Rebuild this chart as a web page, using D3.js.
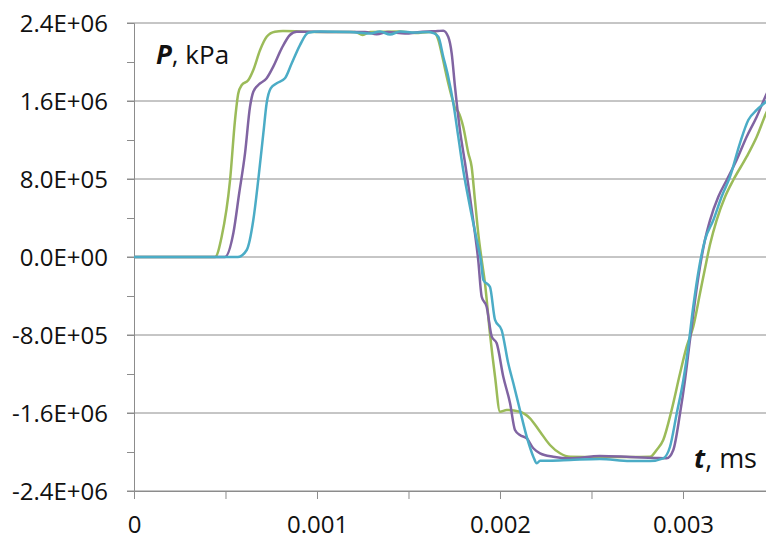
<!DOCTYPE html>
<html>
<head>
<meta charset="utf-8">
<script src="https://cdn.jsdelivr.net/npm/d3@7"></script>
<style>
  body { margin: 0; background: #fff; }
  text { font-family: "Open Sans", Lato, sans-serif; fill: #111; }
  .axisGroup path, .axisGroup line { stroke: #8c8c8c; }
</style>
</head>
<body>
<div id="chart"></div>
<script>
// data: [t (s), P (kPa)]
const greenSeries = [
  [0, 0], [0.000443, 0], [0.000479, 2.08e5], [0.000525, 7.90e5], [0.000552, 1.405e6],
  [0.000570, 1.679e6], [0.000589, 1.764e6], [0.000625, 1.815e6], [0.000652, 1.918e6],
  [0.000689, 2.123e6], [0.000725, 2.259e6], [0.000770, 2.311e6], [0.000814, 2.318e6],
  [0.001016, 2.308e6], [0.001208, 2.308e6], [0.001250, 2.277e6], [0.001290, 2.308e6],
  [0.001454, 2.313e6], [0.001536, 2.297e6], [0.001617, 2.308e6], [0.001645, 2.297e6],
  [0.001663, 2.226e6], [0.001681, 2.089e6], [0.001709, 1.849e6], [0.001736, 1.644e6],
  [0.001754, 1.528e6], [0.001772, 1.490e6], [0.001799, 1.336e6], [0.001827, 1.064e6],
  [0.001845, 9.26e5], [0.001863, 5.85e5], [0.001881, 2.46e5], [0.001900, -3.1e4],
  [0.001918, -2.70e5], [0.001945, -7.83e5], [0.001973, -1.228e6], [0.002000, -1.587e6],
  [0.002037, -1.569e6], [0.002109, -1.587e6], [0.002164, -1.654e6], [0.002219, -1.792e6],
  [0.002273, -1.928e6], [0.002328, -2.013e6], [0.002383, -2.048e6], [0.002546, -2.051e6],
  [0.002710, -2.051e6], [0.002820, -2.048e6], [0.002856, -1.979e6], [0.002892, -1.877e6],
  [0.002938, -1.569e6], [0.002984, -1.193e6], [0.003020, -9.20e5], [0.003056, -7.15e5],
  [0.003093, -3.72e5], [0.003120, -1.2e5], [0.003148, 1.3e5], [0.003184, 3.79e5],
  [0.003230, 6.18e5], [0.003275, 7.90e5], [0.003348, 1.029e6], [0.003403, 1.234e6],
  [0.003454, 1.474e6], [0.003503, 1.66e6]
];
const purpleSeries = [
  [0, 0], [0.000497, 0], [0.000543, 2.46e5], [0.000575, 6.56e5], [0.000607, 1.067e6],
  [0.000634, 1.542e6], [0.000652, 1.695e6], [0.000679, 1.764e6], [0.000725, 1.833e6],
  [0.000761, 1.952e6], [0.000807, 2.140e6], [0.000852, 2.277e6], [0.000889, 2.311e6],
  [0.001071, 2.308e6], [0.001262, 2.308e6], [0.001326, 2.284e6], [0.001388, 2.308e6],
  [0.001481, 2.292e6], [0.001563, 2.308e6], [0.001661, 2.318e6], [0.001690, 2.321e6],
  [0.001717, 2.259e6], [0.001736, 2.089e6], [0.001754, 1.747e6], [0.001781, 1.303e6],
  [0.001809, 9.64e5], [0.001836, 6.18e5], [0.001863, 2.46e5], [0.001881, -3.1e4],
  [0.001900, -4.07e5], [0.001927, -5.10e5], [0.001955, -8.17e5], [0.001982, -8.85e5],
  [0.002018, -1.228e6], [0.002055, -1.500e6], [0.002082, -1.774e6], [0.002109, -1.826e6],
  [0.002146, -1.859e6], [0.002182, -1.962e6], [0.002219, -2.013e6], [0.002291, -2.048e6],
  [0.002383, -2.065e6], [0.002546, -2.041e6], [0.002710, -2.051e6], [0.002847, -2.061e6],
  [0.002911, -2.065e6], [0.002947, -1.979e6], [0.002984, -1.603e6], [0.003011, -1.262e6],
  [0.003038, -8.51e5], [0.003066, -4.41e5], [0.003093, -9.9e4], [0.003120, 1.74e5],
  [0.003148, 3.79e5], [0.003193, 6.18e5], [0.003239, 7.90e5], [0.003293, 9.95e5],
  [0.003348, 1.234e6], [0.003403, 1.439e6], [0.003454, 1.662e6], [0.003503, 1.85e6]
];
const cyanSeries = [
  [0, 0], [0.000568, 0], [0.000616, 7.2e4], [0.000652, 3.79e5], [0.000679, 7.90e5],
  [0.000707, 1.272e6], [0.000725, 1.579e6], [0.000747, 1.730e6], [0.000780, 1.782e6],
  [0.000825, 1.833e6], [0.000862, 1.987e6], [0.000907, 2.174e6], [0.000952, 2.300e6],
  [0.001016, 2.313e6], [0.001180, 2.308e6], [0.001290, 2.292e6], [0.001344, 2.313e6],
  [0.001399, 2.282e6], [0.001454, 2.313e6], [0.001536, 2.302e6], [0.001607, 2.308e6],
  [0.001636, 2.297e6], [0.001663, 2.259e6], [0.001690, 2.054e6], [0.001717, 1.849e6],
  [0.001745, 1.576e6], [0.001772, 1.234e6], [0.001799, 8.92e5], [0.001836, 5.16e5],
  [0.001873, 1.74e5], [0.001895, -3.1e4], [0.001909, -2.36e5], [0.001945, -3.05e5],
  [0.001973, -6.46e5], [0.002009, -7.49e5], [0.002045, -1.090e6], [0.002073, -1.295e6],
  [0.002109, -1.569e6], [0.002146, -1.843e6], [0.002182, -2.048e6], [0.002201, -2.116e6],
  [0.002219, -2.089e6], [0.002273, -2.089e6], [0.002383, -2.082e6], [0.002546, -2.072e6],
  [0.002710, -2.092e6], [0.002820, -2.092e6], [0.002892, -2.065e6], [0.002929, -1.946e6],
  [0.002966, -1.603e6], [0.003002, -1.262e6], [0.003029, -9.20e5], [0.003056, -5.10e5],
  [0.003089, -9.9e4], [0.003120, 1.74e5], [0.003166, 3.79e5], [0.003211, 6.18e5],
  [0.003257, 8.24e5], [0.003311, 1.166e6], [0.003357, 1.405e6], [0.003403, 1.508e6],
  [0.003454, 1.593e6], [0.003503, 1.68e6]
];
const seriesColors = ['#9bbb59', '#8064a2', '#4bacc6'];

const yTicks = [2.4e6, 1.6e6, 8.0e5, 0, -8.0e5, -1.6e6, -2.4e6];
const yTickLabels = ['2.4E+06', '1.6E+06', '8.0E+05', '0.0E+00', '-8.0E+05', '-1.6E+06', '-2.4E+06'];
const yMinorTicks = [2.0e6, 1.2e6, 4.0e5, -4.0e5, -1.2e6, -2.0e6];
const xTicks = [0, 0.001, 0.002, 0.003];
const xTickLabels = ['0', '0.001', '0.002', '0.003'];
const xMinorTicks = [0.0005, 0.0015, 0.0025];

const width = 766;
const height = 539;
const margin = { top: 23, right: 0, bottom: 48, left: 134 };
const innerW = width - margin.left - margin.right;
const innerH = height - margin.top - margin.bottom;

const svg = d3.select('div#chart').append('svg').attr('width', width).attr('height', height)
  .style('background', '#fff');

const x = d3.scaleLinear().domain([0, 0.0034536]).range([0, innerW]);
const y = d3.scaleLinear().domain([-2.4e6, 2.4e6]).range([innerH, 0]);

const axisGroup = svg.append('g').attr('class', 'axisGroup')
  .attr('transform', `translate(${margin.left},${margin.top})`);

// gridlines (they also stick out left as the major ticks)
axisGroup.selectAll('line.grid').data(yTicks).enter().append('line')
  .attr('class', 'grid')
  .attr('x1', -7).attr('x2', innerW)
  .attr('y1', d => y(d)).attr('y2', d => y(d))
  .attr('stroke-width', 1);

// y axis
const yAxisGroup = axisGroup.append('g');
yAxisGroup.call(d3.axisLeft(y).tickValues(yTicks).tickSize(7).tickPadding(19)
  .tickFormat((d, i) => yTickLabels[i]));
axisGroup.append('g').call(d3.axisLeft(y).tickValues(yMinorTicks).tickSize(7).tickFormat(''))
  .select('.domain').remove();
yAxisGroup.selectAll('text').style('font-size', '24px').attr('dy', '0.36em');

// x axis
const xAxisGroup = axisGroup.append('g').attr('transform', `translate(0,${innerH})`);
xAxisGroup.call(d3.axisBottom(x).tickValues(xTicks).tickSize(8).tickPadding(17)
  .tickFormat((d, i) => xTickLabels[i]));
axisGroup.append('g').attr('transform', `translate(0,${innerH})`)
  .call(d3.axisBottom(x).tickValues(xMinorTicks).tickSize(8).tickFormat(''))
  .select('.domain').remove();
xAxisGroup.selectAll('text').style('font-size', '24px');
axisGroup.selectAll('.domain').attr('stroke-width', 1);

// lines
svg.append('clipPath').attr('id', 'plotClip').append('rect')
  .attr('x', 0).attr('y', -10).attr('width', innerW).attr('height', innerH + 20);

const elementGroup = svg.append('g').attr('class', 'elementGroup')
  .attr('transform', `translate(${margin.left},${margin.top})`)
  .attr('clip-path', 'url(#plotClip)');

const line = d3.line()
  .x(d => x(d[0]))
  .y(d => y(d[1]))
  .curve(d3.curveMonotoneX);

[greenSeries, purpleSeries, cyanSeries].forEach((s, i) => {
  elementGroup.append('path')
    .datum(s)
    .attr('d', line)
    .attr('fill', 'none')
    .attr('stroke', seriesColors[i])
    .attr('stroke-width', 2.5)
    .attr('stroke-linejoin', 'round');
});

// axis titles
const pLabel = svg.append('text').attr('x', 156).attr('y', 64).style('font-size', '26px');
pLabel.append('tspan').text('P').style('font-weight', 'bold').style('font-style', 'italic');
pLabel.append('tspan').text(', kPa');

const tLabel = svg.append('text').attr('x', 757).attr('y', 468).attr('text-anchor', 'end')
  .style('font-size', '27px');
tLabel.append('tspan').text('t').style('font-weight', 'bold').style('font-style', 'italic');
tLabel.append('tspan').text(', ms');
</script>
</body>
</html>
